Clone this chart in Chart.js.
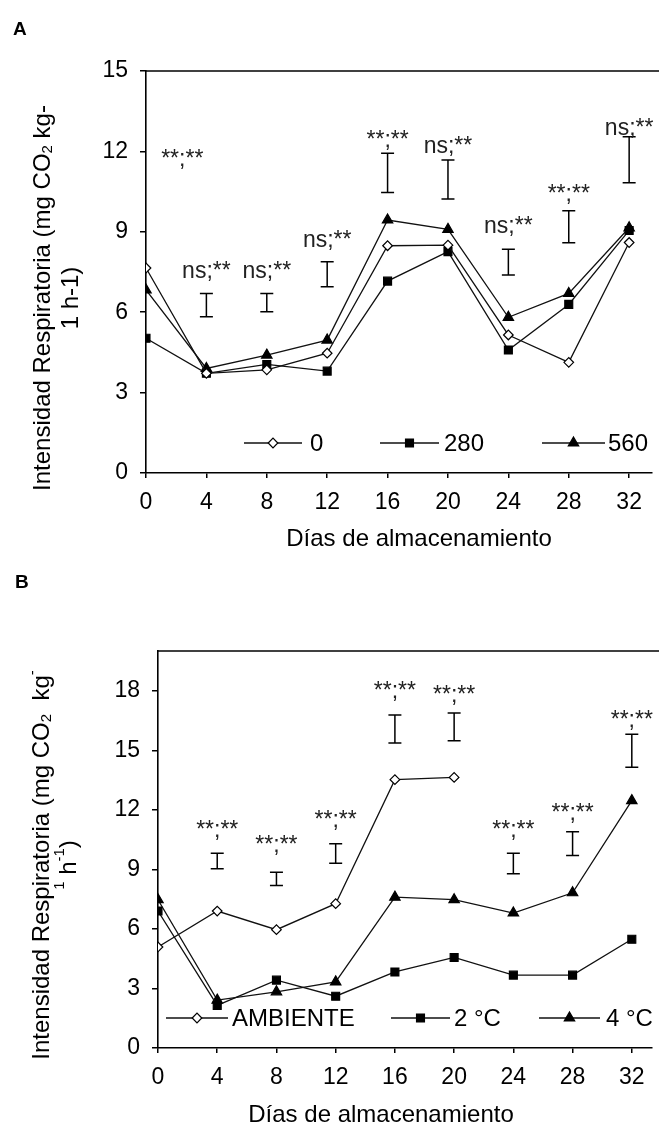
<!DOCTYPE html>
<html><head><meta charset="utf-8">
<script src="https://cdn.jsdelivr.net/npm/chart.js@4.4.1/dist/chart.umd.min.js"></script>
<style>
html,body{margin:0;padding:0;background:#fff;width:659px;height:1125px;overflow:hidden}
.wrap{position:absolute;left:0;width:659px}
#wa{top:0;height:560px}
#wb{top:560px;height:565px}
canvas{display:block}
</style></head><body>
<div class="wrap" id="wa"><canvas id="ca" width="659" height="560"></canvas></div>
<div class="wrap" id="wb"><canvas id="cb" width="659" height="565"></canvas></div>
<script>
// ---------- DATA ----------
const days = [0, 4, 8, 12, 16, 20, 24, 28, 32];
const xTicks = [0, 4, 8, 12, 16, 20, 24, 28, 32];
const yTicksA = [0, 3, 6, 9, 12, 15];
const yTicksB = [0, 3, 6, 9, 12, 15, 18];

// Panel A
const namesA = ['0', '280', '560'];
const seriesA0   = [7.65, 3.72, 3.85, 4.47, 8.48, 8.50, 5.15, 4.13, 8.60];
const seriesA280 = [5.03, 3.72, 4.05, 3.80, 7.16, 8.26, 4.59, 6.29, 9.05];
const seriesA560 = [6.83, 3.90, 4.40, 4.96, 9.44, 9.09, 5.81, 6.70, 9.15];
const errDaysA = [4, 8, 12, 16, 20, 24, 28, 32];
const errLowA  = [5.83, 6.02, 6.95, 10.47, 10.22, 7.39, 8.59, 10.83];
const errHighA = [6.70, 6.70, 7.88, 11.93, 11.68, 8.35, 9.79, 12.55];
const sigDaysA = [2.4, 4, 8, 12, 16, 20, 24, 28, 32];
const sigTextA = ['**;**', 'ns;**', 'ns;**', 'ns;**', '**;**', 'ns;**', 'ns;**', '**;**', 'ns;**'];
const sigValA  = [11.46, 7.28, 7.28, 8.43, 12.16, 11.94, 8.96, 10.15, 12.61];

// Panel B
const namesB = ['AMBIENTE', '2 °C', '4 °C'];
const seriesBamb = [5.09, 6.90, 5.96, 7.27, 13.52, 13.63, null, null, null];
const seriesB2   = [6.90, 2.15, 3.42, 2.61, 3.83, 4.56, 3.67, 3.67, 5.48];
const seriesB4   = [7.47, 2.41, 2.83, 3.33, 7.60, 7.47, 6.80, 7.82, 12.46];
const errDaysB = [4, 8, 12, 16, 20, 24, 28, 32];
const errLowB  = [9.03, 8.19, 9.31, 15.36, 15.48, 8.78, 9.70, 14.14];
const errHighB = [9.81, 8.86, 10.29, 16.77, 16.88, 9.81, 10.90, 15.81];
const sigDaysB = [4, 8, 12, 16, 20, 24, 28, 32];
const sigTextB = ['**;**', '**;**', '**;**', '**;**', '**;**', '**;**', '**;**', '**;**'];
const sigValB  = [10.65, 9.85, 11.11, 17.64, 17.44, 10.65, 11.51, 16.18];

// ---------- STYLE / LAYOUT ----------
const FONT = '"Liberation Sans", Arial, sans-serif';
const styles = [
  {pointStyle: 'rectRot', radius: 4.8, bg: '#fff'},
  {pointStyle: 'rect', radius: 5.6, bg: '#000'},
  {pointStyle: 'triangle', radius: 6, bg: '#000'}
];

function ds(label, data, k) {
  const s = styles[k];
  return {label, data: data.map((v, i) => ({x: days[i], y: v})),
    borderColor: '#111', borderWidth: 1.3, backgroundColor: s.bg,
    pointStyle: s.pointStyle, pointRadius: s.radius, pointBorderColor: '#000',
    pointBackgroundColor: s.bg, pointBorderWidth: 1.2, spanGaps: false, tension: 0};
}

function drawRich(ctx, segs, size) {
  const small = Math.round(size * 0.62);
  let total = 0;
  const w = segs.map(s => { ctx.font = `${s.sub || s.sup ? small : size}px ${FONT}`; const m = ctx.measureText(s.t).width; total += m; return m; });
  let x = -total / 2;
  segs.forEach((s, i) => {
    ctx.font = `${s.sub || s.sup ? small : size}px ${FONT}`;
    let dy = 0;
    if (s.sub) dy = size * 0.22;
    if (s.sup) dy = -size * 0.38;
    ctx.fillText(s.t, x, dy);
    x += w[i];
  });
}

const decor = {
  id: 'decor',
  afterDraw(chart, args, o) {
    const ctx = chart.ctx, xs = chart.scales.x, ys = chart.scales.y, ca = chart.chartArea;
    ctx.save();
    ctx.strokeStyle = '#000'; ctx.fillStyle = '#000';
    // top frame line
    ctx.lineWidth = 1.6;
    ctx.beginPath(); ctx.moveTo(ca.left, ca.top); ctx.lineTo(chart.width, ca.top); ctx.stroke();
    // error bars
    ctx.lineWidth = 1.5;
    o.errDays.forEach((d, i) => {
      const x = xs.getPixelForValue(d), y1 = ys.getPixelForValue(o.errHigh[i]), y2 = ys.getPixelForValue(o.errLow[i]);
      ctx.beginPath();
      ctx.moveTo(x, y1); ctx.lineTo(x, y2);
      ctx.moveTo(x - 6.5, y1); ctx.lineTo(x + 6.5, y1);
      ctx.moveTo(x - 6.5, y2); ctx.lineTo(x + 6.5, y2);
      ctx.stroke();
    });
    // significance labels
    ctx.font = `23px ${FONT}`; ctx.textAlign = 'center'; ctx.textBaseline = 'alphabetic';
    ctx.fillStyle = '#222';
    o.sigDays.forEach((d, i) => ctx.fillText(o.sigText[i], xs.getPixelForValue(d), ys.getPixelForValue(o.sigVal[i])));
    ctx.fillStyle = '#000';
    // legend
    o.legend.items.forEach((it, k) => {
      const dset = chart.data.datasets[k];
      const y = o.legend.y;
      ctx.lineWidth = 1.3; ctx.strokeStyle = '#111';
      ctx.beginPath(); ctx.moveTo(it.x1, y); ctx.lineTo(it.x2, y); ctx.stroke();
      ctx.fillStyle = dset.pointBackgroundColor; ctx.strokeStyle = '#000'; ctx.lineWidth = 1.2;
      Chart.helpers.drawPoint(ctx, {pointStyle: dset.pointStyle, radius: dset.pointRadius, rotation: 0, borderWidth: 1.2}, (it.x1 + it.x2) / 2, y);
      ctx.fillStyle = '#000';
      ctx.font = `24px ${FONT}`; ctx.textAlign = 'left'; ctx.textBaseline = 'middle';
      ctx.fillText(dset.label, it.tx, y + 1);
    });
    // x title
    ctx.font = `24px ${FONT}`; ctx.textAlign = 'center'; ctx.textBaseline = 'alphabetic';
    ctx.fillText(o.xTitle.text, o.xTitle.cx, o.xTitle.y);
    // y title
    ctx.textAlign = 'left'; ctx.textBaseline = 'middle';
    o.yTitle.lines.forEach((segs, j) => {
      ctx.save();
      ctx.translate(o.yTitle.xs[j], o.yTitle.cy);
      ctx.rotate(-Math.PI / 2);
      drawRich(ctx, segs, 24);
      ctx.restore();
    });
    // panel letter
    ctx.font = `bold 19px ${FONT}`; ctx.textAlign = 'left'; ctx.textBaseline = 'alphabetic';
    ctx.fillText(o.panel.t, o.panel.x, o.panel.y);
    ctx.restore();
  }
};

function makeChart(id, p) {
  return new Chart(document.getElementById(id), {
    type: 'line',
    data: {datasets: p.datasets},
    plugins: [decor],
    options: {
      responsive: false, animation: false, events: [],
      layout: {padding: {left: 0, top: p.top, right: 0, bottom: 0}},
      plugins: {legend: {display: false}, tooltip: {enabled: false}, decor: p.decor},
      scales: {
        x: {type: 'linear', min: 0, max: p.xmax,
          afterBuildTicks: s => { s.ticks = xTicks.map(v => ({value: v})); },
          afterFit: s => { s.height = p.xh; },
          border: {display: true, color: '#000', width: 1.6},
          grid: {drawOnChartArea: false, drawTicks: true, tickLength: 5, color: '#000', lineWidth: 1.5},
          ticks: {color: '#000', font: {family: FONT, size: 23}, padding: 11, maxRotation: 0, autoSkip: false}},
        y: {type: 'linear', min: 0, max: p.ymax,
          afterBuildTicks: s => { s.ticks = p.yTicks.map(v => ({value: v})); },
          afterFit: s => { s.width = p.yw; },
          border: {display: true, color: '#000', width: 1.6},
          grid: {drawOnChartArea: false, drawTicks: true, tickLength: 6, color: '#000', lineWidth: 1.5},
          ticks: {color: '#000', font: {family: FONT, size: 23}, padding: 12, autoSkip: false}}
      }
    }
  });
}

makeChart('ca', {
  top: 71, xh: 87, yw: 146, xmax: 33.5, ymax: 15, yTicks: yTicksA,
  datasets: [ds(namesA[0], seriesA0, 0), ds(namesA[1], seriesA280, 1), ds(namesA[2], seriesA560, 2)],
  decor: {
    errDays: errDaysA, errLow: errLowA, errHigh: errHighA,
    sigDays: sigDaysA, sigText: sigTextA, sigVal: sigValA,
    legend: {y: 443, items: [{x1: 244, x2: 302, tx: 310}, {x1: 380, x2: 439, tx: 444}, {x1: 542, x2: 605, tx: 608}]},
    xTitle: {text: 'Días de almacenamiento', cx: 419, y: 546},
    yTitle: {xs: [43, 71], cy: 298, lines: [
      [{t: 'Intensidad Respiratoria (mg CO'}, {t: '2', sub: true}, {t: ' kg-'}],
      [{t: '1 h-1)'}]
    ]},
    panel: {t: 'A', x: 13, y: 35}
  }
});

makeChart('cb', {
  top: 91, xh: 77, yw: 158, xmax: 33.35, ymax: 20, yTicks: yTicksB,
  datasets: [ds(namesB[0], seriesBamb, 0), ds(namesB[1], seriesB2, 1), ds(namesB[2], seriesB4, 2)],
  decor: {
    errDays: errDaysB, errLow: errLowB, errHigh: errHighB,
    sigDays: sigDaysB, sigText: sigTextB, sigVal: sigValB,
    legend: {y: 458, items: [{x1: 166, x2: 228, tx: 232}, {x1: 391, x2: 450, tx: 454}, {x1: 539, x2: 600, tx: 606}]},
    xTitle: {text: 'Días de almacenamiento', cx: 381, y: 562},
    yTitle: {xs: [42, 69], cy: 305, lines: [
      [{t: 'Intensidad Respiratoria (mg CO'}, {t: '2', sub: true}, {t: '  kg'}, {t: '-', sup: true}],
      [{t: '1', sup: true}, {t: ' h'}, {t: '-1', sup: true}, {t: ')'}]
    ]},
    panel: {t: 'B', x: 15, y: 28}
  }
});
</script>
</body></html>
